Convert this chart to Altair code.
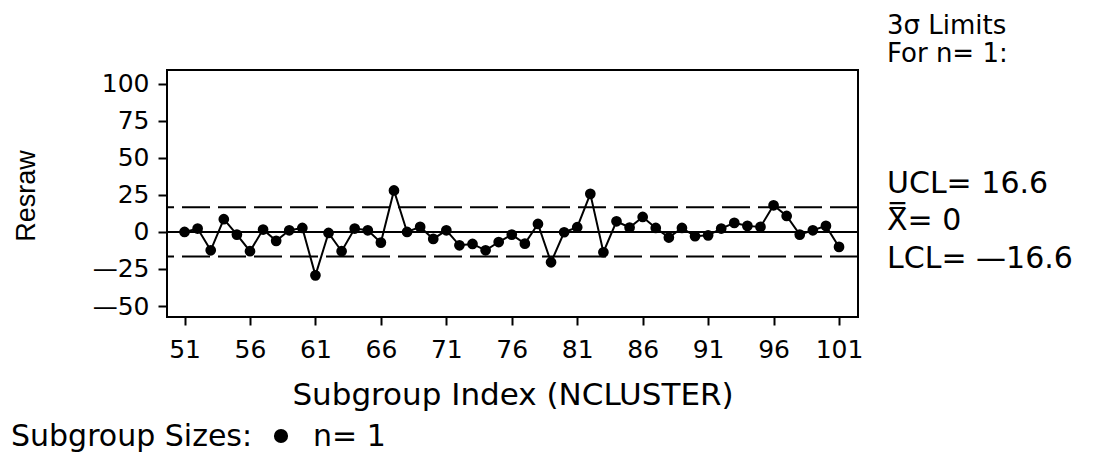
import altair as alt
import pandas as pd

# ---- data ----
subgroups = list(range(51, 102))
resraw = [0, 2.3, -12.4, 8.6, -1.8, -13, 1.6, -6, 1.1, 2.7,
          -29.3, -0.7, -13, 2.3, 1.1, -7.2, 28, 0, 3.4, -4.7,
          1.1, -9, -8.1, -12.4, -6.8, -1.8, -7.9, 5.4, -20.5, -0.2,
          3.2, 25.7, -13.7, 7.2, 3, 10.1, 2.7, -3.8, 2.7, -2.9,
          -2.3, 2.3, 6.1, 4.1, 3.4, 18, 10.8, -1.8, 1.1, 4.1, -10.1]
x_ticks = [51, 56, 61, 66, 71, 76, 81, 86, 91, 96, 101]
y_ticks = [-50, -25, 0, 25, 50, 75, 100]
ucl = 16.6
center = 0
lcl = -16.6

df = pd.DataFrame({"sub": subgroups, "val": resraw})
limits = pd.DataFrame({"y": [ucl, lcl]})
cl = pd.DataFrame({"y": [center]})

FONT = "DejaVu Sans"
W, H = 691, 247

xsc = alt.Scale(domain=[49.66, 102.45], nice=False, zero=False)
ysc = alt.Scale(domain=[-57.4, 109.3], nice=False, zero=False)

base = alt.Chart(df)

line = base.mark_line(color="black", strokeWidth=2).encode(
    x=alt.X("sub:Q", scale=xsc,
            axis=alt.Axis(values=x_ticks, title="Subgroup Index (NCLUSTER)",
                          grid=False, domain=False, tickColor="black", tickWidth=2,
                          tickSize=8, labelPadding=12, labelFont=FONT, labelFontSize=25,
                          labelColor="black", titleFont=FONT, titleFontSize=31,
                          titleFontWeight="normal", titleColor="black",
                          titleBaseline="alphabetic", titleY=87, titleX=W / 2,
                          labelFlush=False, labelOverlap=False)),
    y=alt.Y("val:Q", scale=ysc,
            axis=alt.Axis(values=y_ticks, title="Resraw", grid=False, domain=False,
                          tickColor="black", tickWidth=2, tickSize=9, labelPadding=9,
                          labelFont=FONT, labelFontSize=25, labelColor="black",
                          labelExpr="datum.value < 0 ? '\u2014' + abs(datum.value) : datum.label",
                          titleFont="Liberation Sans Narrow, Liberation Sans", titleFontSize=27,
                          titleFontWeight="normal", titleColor="black",
                          titleAngle=270, titleAlign="center", titleBaseline="middle",
                          titleX=-141, titleY=H / 2 + 2,
                          labelFlush=False, labelOverlap=False)),
)

pts = base.mark_circle(color="black", opacity=1, size=115).encode(
    x=alt.X("sub:Q", scale=xsc), y=alt.Y("val:Q", scale=ysc))

lim = alt.Chart(limits).mark_rule(color="black", strokeWidth=2, strokeDash=[28, 8]).encode(
    y=alt.Y("y:Q", scale=ysc))
cen = alt.Chart(cl).mark_rule(color="black", strokeWidth=2).encode(
    y=alt.Y("y:Q", scale=ysc))

ann = pd.DataFrame({"t": [0]})


def label(txt, px, py, size=29, align="left"):
    return alt.Chart(ann).mark_text(
        text=txt, font=FONT, fontSize=size, color="black", align=align,
        baseline="alphabetic").encode(x=alt.value(px), y=alt.value(py))


texts = [
    label("3\u03c3 Limits", 720, -36, size=26),
    label("For  n= 1:", 720, -8, size=26),
    label("UCL= 16.6", 720, 123, size=30),
    label("X\u033f= 0", 720, 160, size=30),
    label("LCL= \u201416.6", 720, 198, size=30),
    label("Subgroup Sizes:", -156, 376, size=30),
    label("n= 1", 146, 376, size=30),
]
dot = alt.Chart(ann).mark_circle(color="black", opacity=1, size=200).encode(
    x=alt.value(114), y=alt.value(366))

chart = alt.layer(lim, cen, line, pts, *texts, dot).properties(
    width=W, height=H,
    autosize=alt.AutoSizeParams(type="none"),
    padding={"left": 159, "top": 62, "right": 230, "bottom": 140},
    background="white",
).configure_view(stroke="black", strokeWidth=2)

chart.save("out.html", embed_options={"renderer": "svg", "actions": False})
